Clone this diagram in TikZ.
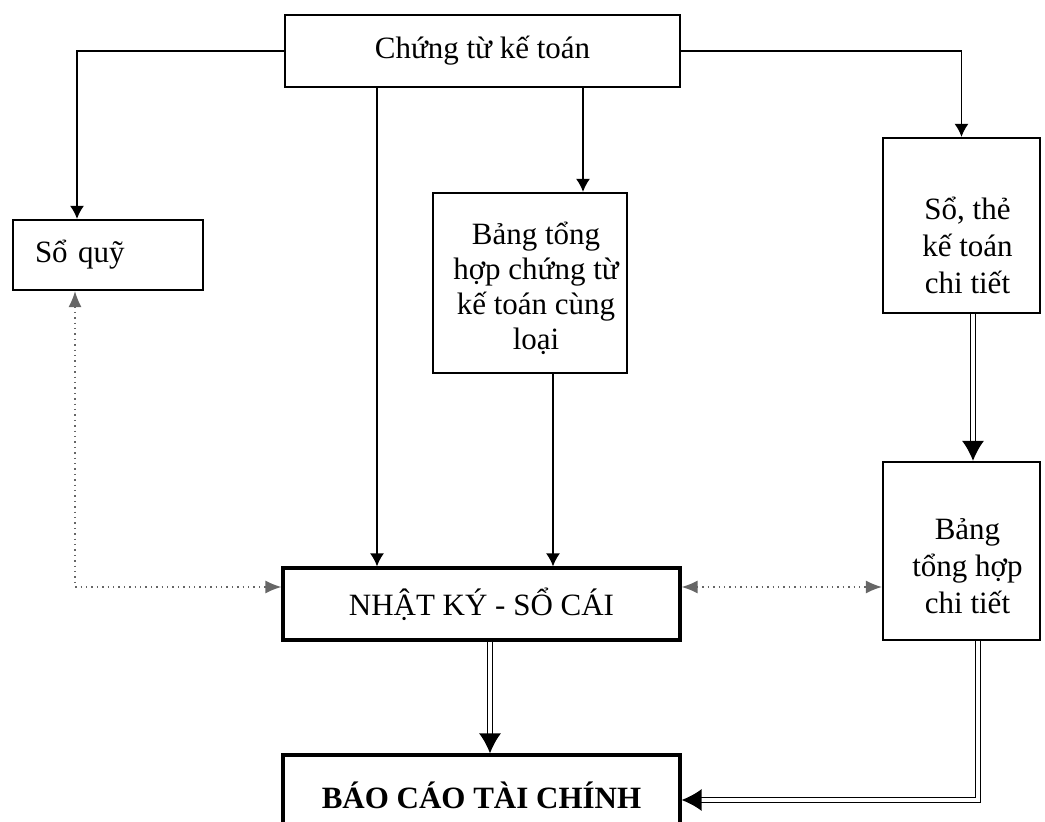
\documentclass[tikz,border=0pt]{standalone}
\usepackage{fontspec}
\setmainfont{Liberation Serif}
\usetikzlibrary{arrows.meta,calc}
\begin{document}
\begin{tikzpicture}[x=0.5pt,y=-0.5pt,
  box/.style={draw, line width=1.1pt, inner sep=0pt, align=center,
    font=\fontsize{15.5pt}{18pt}\selectfont},
  thickbox/.style={box, line width=1.6pt},
  txt/.style={inner sep=0pt, align=center, font=\fontsize{15.5pt}{18.5pt}\selectfont},
  conn/.style={draw, line width=0.8pt, -{Latex[length=6.5pt,width=7pt]}},
  dotconn/.style={draw=black!60, dotted, line width=0.7pt,
    {Latex[length=8pt,width=6.5pt]}-{Latex[length=8pt,width=6.5pt]}},
  dblconn/.style={draw, double, line width=0.75pt, double distance=1.6pt,
    -{Latex[length=10pt,width=11pt]}}]
\useasboundingbox (0,0) rectangle (1045,822);
\clip (0,0) rectangle (1045,822);

% helper coordinates for connector positions
\coordinate (x75) at (75,0);
\coordinate (x77) at (77,0);
\coordinate (x377) at (377,0);
\coordinate (x583) at (583,0);
\coordinate (x553) at (553,0);
\coordinate (x490) at (490,0);
\coordinate (x973) at (973,0);
\coordinate (x978) at (978,0);
\coordinate (y587) at (0,587);
\coordinate (y800) at (0,800);

% boxes
\node[box, minimum width=197.5pt, minimum height=36pt] (ct) at (482.5,51) {Chứng từ kế toán};
\node[box, minimum width=95pt, minimum height=35pt, inner xsep=11pt, text width=73pt, align=left] (sq) at (108,255) {Sổ quỹ};
\node[box, minimum width=97pt, minimum height=90pt] (bth) at (530,283) {};
\node[txt, font=\fontsize{15.5pt}{17.5pt}\selectfont] (bthtext) at ($(bth.center)+(6,5)$) {Bảng tổng\\hợp chứng từ\\kế toán cùng\\loại};
\node[box, minimum width=78.5pt, minimum height=87.5pt] (st) at (961.5,225.5) {};
\node[txt] (sttext) at ($(st.center)+(6,20)$) {Sổ, thẻ\\kế toán\\chi tiết};
\node[box, minimum width=78.5pt, minimum height=89pt] (btct) at (961.5,551) {};
\node[txt] (btcttext) at ($(btct.center)+(6,15)$) {Bảng\\tổng hợp\\chi tiết};
\node[thickbox, minimum width=198.5pt, minimum height=36pt] (nk) at (481.5,604) {NHẬT KÝ - SỔ CÁI};
\node[thickbox, minimum width=198.5pt, minimum height=40pt, font=\fontsize{15.5pt}{18pt}\selectfont\bfseries] (bc) at (481.5,795) {BÁO CÁO TÀI CHÍNH};

% connectors
\draw[conn] (ct.west) -| (sq.north -| x77);
\draw[conn] (ct.east) -| (st.north);
\draw[conn] (ct.south -| x377) -- (nk.north -| x377);
\draw[conn] (ct.south -| x583) -- (bth.north -| x583);
\draw[conn] (bth.south -| x553) -- (nk.north -| x553);
\draw[dotconn] (sq.south -| x75) |- (nk.west |- y587);
\draw[dotconn] (nk.east |- y587) -- (btct.west |- y587);
\draw[dblconn] (st.south -| x973) -- (btct.north -| x973);
\draw[dblconn] (nk.south -| x490) -- (bc.north -| x490);
\draw[dblconn] (btct.south -| x978) |- (bc.east |- y800);
\end{tikzpicture}
\end{document}
